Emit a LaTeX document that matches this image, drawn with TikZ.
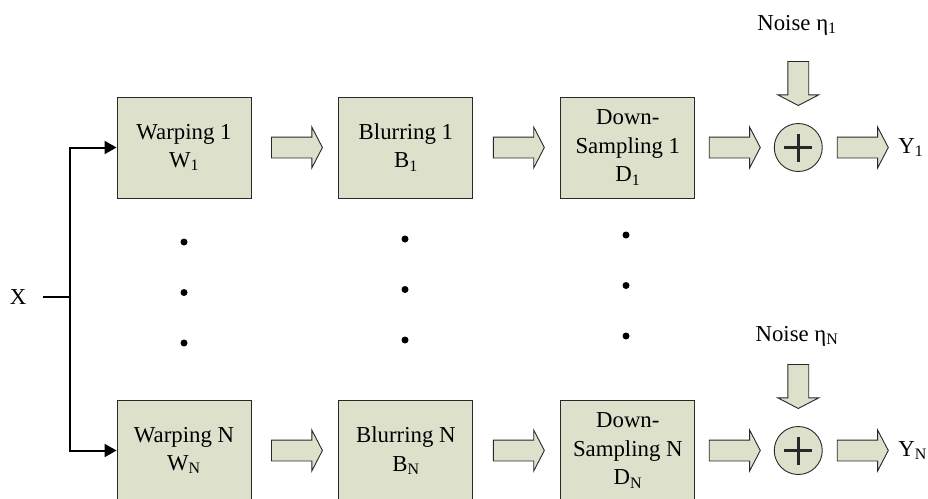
\documentclass[tikz,border=0pt]{standalone}
\usepackage{fontspec}
\setmainfont{Liberation Serif}
\usepackage{tikz}
\usetikzlibrary{positioning,shapes.arrows,arrows.meta}

\definecolor{boxfill}{RGB}{221,224,203}
\definecolor{boxline}{RGB}{40,40,40}

\tikzset{
  stage/.style={draw=boxline,fill=boxfill,line width=0.9pt,minimum width=134pt,
    minimum height=101pt,inner sep=0pt,align=center},
  blk/.style={single arrow,draw=boxline,fill=boxfill,line width=0.9pt,inner xsep=0pt,
    inner ysep=10pt,outer sep=0pt,minimum width=40pt,minimum height=51pt,
    single arrow head extend=10pt,single arrow tip angle=125},
  blkdown/.style={blk,shape border rotate=270,inner xsep=10pt,inner ysep=0pt,
    minimum height=44pt},
  summer/.style={circle,draw=boxline,fill=boxfill,line width=0.9pt,minimum size=48pt,
    inner sep=0pt,outer sep=0pt,path picture={
      \draw[line width=2.8pt] (path picture bounding box.center) +(-14pt,0) -- +(14pt,0)
        (path picture bounding box.center) +(0,-14pt) -- +(0,14pt);}},
  lbl/.style={inner sep=0pt},
  wire/.style={line width=2pt},
}

\begin{document}
\begin{tikzpicture}[x=1pt,y=-1pt,font=\fontsize{22.8}{28.5}\selectfont]
  \useasboundingbox (0,0) rectangle (928,498);
  \clip (0,0) rectangle (928,498);

  % first branch
  \node[stage] at (184,147.5) (w1) {Warping 1\\W\textsubscript{1}};
  \node[blk,right=20pt of w1] (a1) {};
  \node[stage,right=16pt of a1] (b1) {Blurring 1\\B\textsubscript{1}};
  \node[blk,right=20pt of b1] (a2) {};
  \node[stage,right=16pt of a2] (d1) {Down-\\Sampling 1\\D\textsubscript{1}};
  \node[blk,right=14pt of d1] (a3) {};
  \node[summer,right=14pt of a3] (s1) {};
  \node[blk,right=15pt of s1] (a4) {};
  \node[lbl,right=10pt of a4] (y1) {Y\textsubscript{1}};
  \node[blkdown,above=18pt of s1] (n1) {};
  \node[lbl] at (797,25) (eta1) {Noise η\textsubscript{1}};

  % last branch
  \node[stage] at (184,450.5) (wn) {Warping N\\W\textsubscript{N}};
  \node[blk,right=20pt of wn] (an1) {};
  \node[stage,right=16pt of an1] (bn) {Blurring N\\B\textsubscript{N}};
  \node[blk,right=20pt of bn] (an2) {};
  \node[stage,right=16pt of an2] (dn) {Down-\\Sampling N\\D\textsubscript{N}};
  \node[blk,right=14pt of dn] (an3) {};
  \node[summer,right=14pt of an3] (sn) {};
  \node[blk,right=15pt of sn] (an4) {};
  \node[lbl,right=10pt of an4] (yn) {Y\textsubscript{N}};
  \node[blkdown,above=18pt of sn] (nn) {};
  \node[lbl] at (797,336) (etan) {Noise η\textsubscript{N}};

  % vertical dots between the branches
  \foreach \cx/\cy in {184/242,405/239,626/235}
    \foreach \k in {0,1,2}
      \fill (\cx,{\cy+50.5*\k}) circle (3.5pt);

  % input split
  \node[lbl] at (18,297) (x) {X};
  \coordinate (xin) at (43,297);
  \coordinate (split) at (70,297);
  \draw[wire] (xin) -- (split);
  \draw[wire,-{Triangle[length=12pt,width=13pt]}] (split) |- (w1.west);
  \draw[wire,-{Triangle[length=12pt,width=13pt]}] (split) |- (wn.west);
\end{tikzpicture}
\end{document}
